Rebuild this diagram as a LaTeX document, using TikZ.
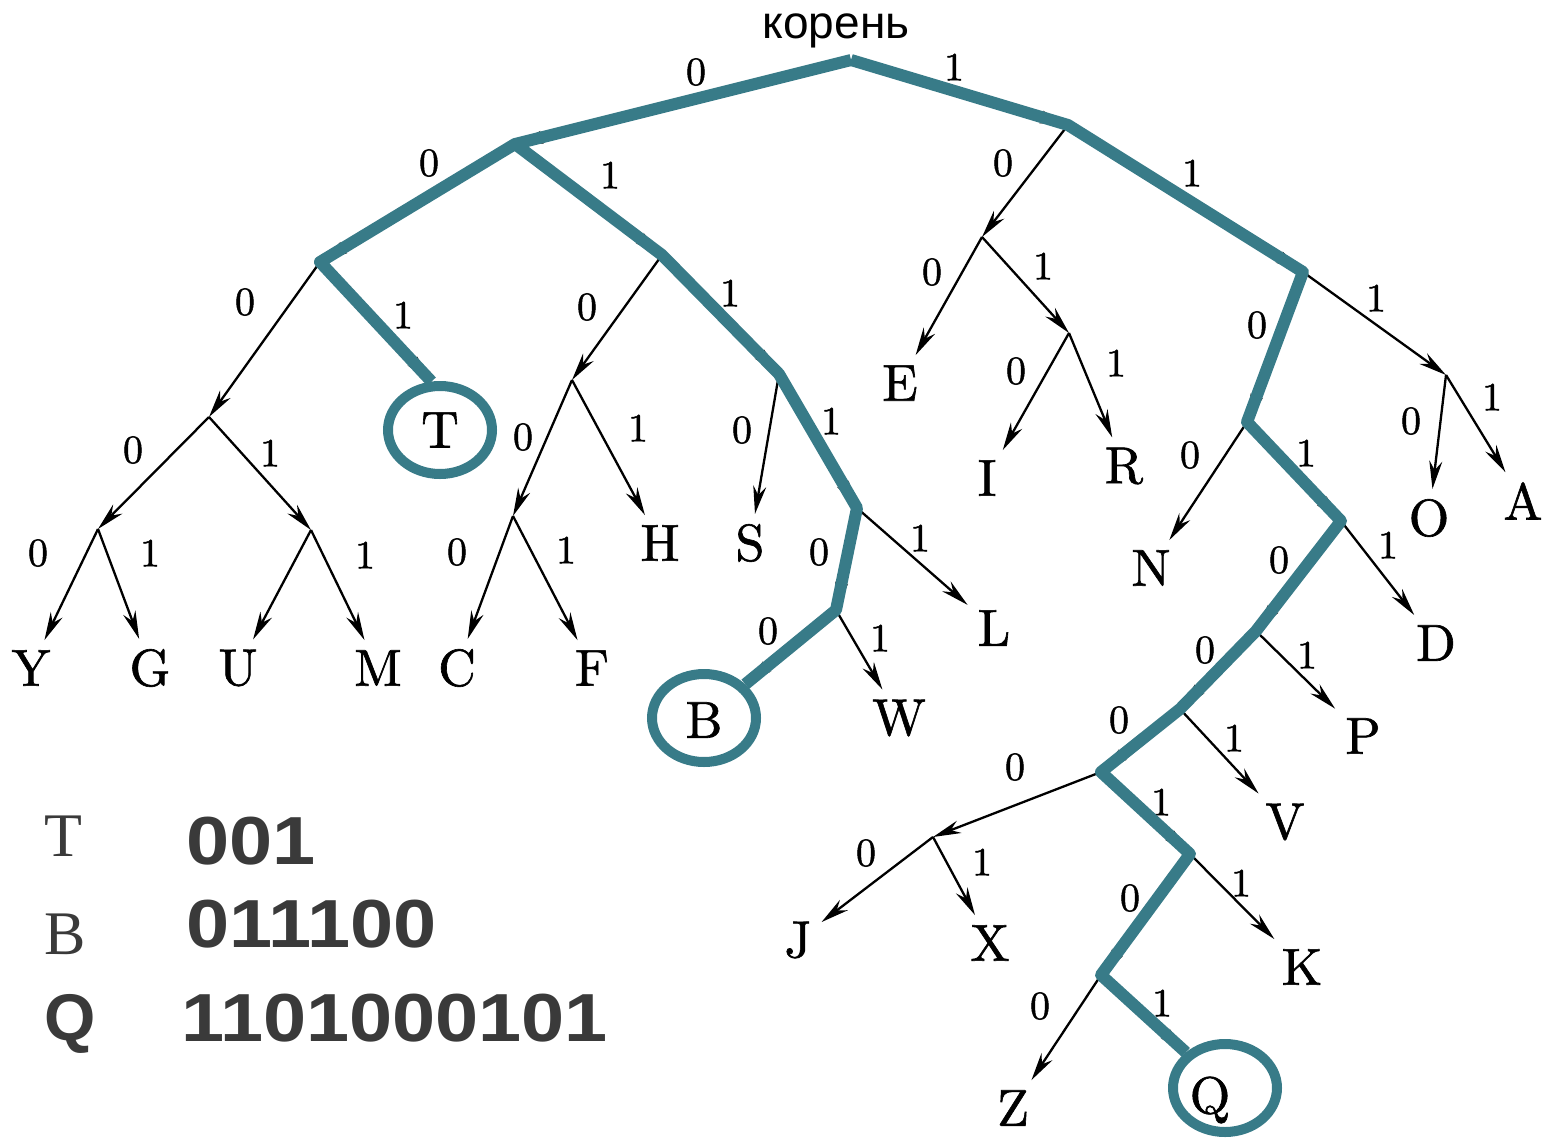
\documentclass[tikz,border=0pt]{standalone}
\usepackage{fontspec}
\usetikzlibrary{arrows.meta,shapes.geometric}
\newfontfamily\lsans{Liberation Sans}
\newfontfamily\lserif{Liberation Serif}
\newfontfamily\treef{lmroman10-regular}[Extension=.otf,FakeBold=1.2]
\definecolor{tealp}{RGB}{56,123,136}
\definecolor{leg}{RGB}{58,58,58}
\begin{document}
\begin{tikzpicture}[x=1pt,y=-1pt,
  edge/.style={line width=2.3pt,-{Stealth[length=28pt,width=13pt]}},
  route/.style={line width=12pt,draw=tealp,line join=round},
  ring/.style={ellipse,draw=tealp,line width=10pt,minimum width=104pt,minimum height=88pt,inner sep=0pt},
  lt/.style={font=\treef\fontsize{52}{52}\selectfont,inner sep=10pt},
  bit/.style={font=\treef\fontsize{40}{40}\selectfont,inner sep=0pt},
  legl/.style={anchor=base west,inner sep=0pt,text=leg},
  legd/.style={anchor=base west,inner sep=0pt,text=leg,xscale=1.14,font=\lsans\bfseries\fontsize{68}{68}\selectfont}]
\useasboundingbox (0,0) rectangle (1547,1138);
% internal nodes
\coordinate (r) at (851,60);
\coordinate (n0) at (515,144);
\coordinate (n00) at (320,262);
\coordinate (n000) at (209,417);
\coordinate (n0000) at (98,529);
\coordinate (n0001) at (311,530);
\coordinate (n01) at (662,255);
\coordinate (n010) at (572,380);
\coordinate (n0100) at (513,516);
\coordinate (n011) at (779,374);
\coordinate (n0111) at (857,508);
\coordinate (n01110) at (836,610);
\coordinate (n1) at (1068,125);
\coordinate (n10) at (982,237);
\coordinate (n101) at (1069,333);
\coordinate (n11) at (1303,272);
\coordinate (n110) at (1247,422);
\coordinate (n111) at (1446,375);
\coordinate (n1101) at (1341,521);
\coordinate (n11010) at (1256,631);
\coordinate (n110100) at (1180,709);
\coordinate (n1101000) at (1101,772);
\coordinate (n11010000) at (933,837);
\coordinate (n11010001) at (1190,854);
\coordinate (n110100010) at (1101,975);
% leaves
\node[lt] (Y) at (31,668) {Y};
\node[lt] (G) at (150,668) {G};
\node[lt] (U) at (238,668) {U};
\node[lt] (M) at (378,668) {M};
\node[lt] (C) at (457,668) {C};
\node[lt] (F) at (592,668) {F};
\node[lt] (H) at (660,543) {H};
\node[lt] (S) at (750,543) {S};
\node[lt] (T) at (440,430) {T};
\node[lt] (B) at (704,720) {B};
\node[lt] (W) at (899,718) {W};
\node[lt] (L) at (994,628) {L};
\node[lt] (E) at (900,383) {E};
\node[lt] (I) at (987,478) {I};
\node[lt] (R) at (1124,466) {R};
\node[lt] (N) at (1151,568) {N};
\node[lt] (O) at (1429,518) {O};
\node[lt] (A) at (1523,501) {A};
\node[lt] (D) at (1436,643) {D};
\node[lt] (P) at (1363,736) {P};
\node[lt] (V) at (1285,822) {V};
\node[lt] (J) at (798,940) {J};
\node[lt] (X) at (990,943) {X};
\node[lt] (K) at (1302,967) {K};
\node[lt] (Z) at (1013,1108) {Z};
\node[lt] (Q) at (1210,1100) {Q};
% circles
\node[ring] (tc) at (440,430) {};
\node[ring] (bc) at (704,718) {};
\node[ring] (qc) at (1225,1088) {};
% black edges
\draw[edge] (r) -- (n0);
\draw[edge] (r) -- (n1);
\draw[edge] (n0) -- (n00);
\draw[edge] (n0) -- (n01);
\draw[edge] (n00) -- (n000);
\draw[edge] (n00) -- (tc.100);
\draw[edge] (n000) -- (n0000);
\draw[edge] (n000) -- (n0001);
\draw[edge] (n0000) -- (Y);
\draw[edge] (n0000) -- (G);
\draw[edge] (n0001) -- (U);
\draw[edge] (n0001) -- (M);
\draw[edge] (n01) -- (n010);
\draw[edge] (n01) -- (n011);
\draw[edge] (n010) -- (n0100);
\draw[edge] (n010) -- (H);
\draw[edge] (n0100) -- (C);
\draw[edge] (n0100) -- (F);
\draw[edge] (n011) -- (S);
\draw[edge] (n011) -- (n0111);
\draw[edge] (n0111) -- (n01110);
\draw[edge] (n0111) -- (L);
\draw[edge] (n01110) -- (bc);
\draw[edge] (n01110) -- (W);
\draw[edge] (n1) -- (n10);
\draw[edge] (n1) -- (n11);
\draw[edge] (n10) -- (E);
\draw[edge] (n10) -- (n101);
\draw[edge] (n101) -- (I);
\draw[edge] (n101) -- (R);
\draw[edge] (n11) -- (n110);
\draw[edge] (n11) -- (n111);
\draw[edge] (n110) -- (N);
\draw[edge] (n110) -- (n1101);
\draw[edge] (n111) -- (O);
\draw[edge] (n111) -- (A);
\draw[edge] (n1101) -- (n11010);
\draw[edge] (n1101) -- (D);
\draw[edge] (n11010) -- (n110100);
\draw[edge] (n11010) -- (P);
\draw[edge] (n110100) -- (n1101000);
\draw[edge] (n110100) -- (V);
\draw[edge] (n1101000) -- (n11010000);
\draw[edge] (n1101000) -- (n11010001);
\draw[edge] (n11010000) -- (J);
\draw[edge] (n11010000) -- (X);
\draw[edge] (n11010001) -- (n110100010);
\draw[edge] (n11010001) -- (K);
\draw[edge] (n110100010) -- (Z);
\draw[edge] (n110100010) -- (qc);
% edge labels
\node[bit] (b1) at (696,72) {0};
\node[bit] (b2) at (954,67) {1};
\node[bit] (b3) at (429,163) {0};
\node[bit] (b4) at (610,175) {1};
\node[bit] (b5) at (245,302) {0};
\node[bit] (b6) at (403,315) {1};
\node[bit] (b7) at (587,307) {0};
\node[bit] (b8) at (730,293) {1};
\node[bit] (b9) at (133,450) {0};
\node[bit] (b10) at (270,453) {1};
\node[bit] (b11) at (38,553) {0};
\node[bit] (b12) at (150,553) {1};
\node[bit] (b13) at (365,555) {1};
\node[bit] (b14) at (523,437) {0};
\node[bit] (b15) at (638,428) {1};
\node[bit] (b16) at (457,552) {0};
\node[bit] (b17) at (566,550) {1};
\node[bit] (b18) at (742,430) {0};
\node[bit] (b19) at (831,421) {1};
\node[bit] (b20) at (819,552) {0};
\node[bit] (b21) at (920,538) {1};
\node[bit] (b22) at (768,631) {0};
\node[bit] (b23) at (880,638) {1};
\node[bit] (b24) at (1003,163) {0};
\node[bit] (b25) at (1192,173) {1};
\node[bit] (b26) at (932,272) {0};
\node[bit] (b27) at (1043,266) {1};
\node[bit] (b28) at (1016,371) {0};
\node[bit] (b29) at (1116,363) {1};
\node[bit] (b30) at (1257,325) {0};
\node[bit] (b31) at (1376,298) {1};
\node[bit] (b32) at (1190,455) {0};
\node[bit] (b33) at (1306,453) {1};
\node[bit] (b34) at (1411,421) {0};
\node[bit] (b35) at (1492,397) {1};
\node[bit] (b36) at (1279,560) {0};
\node[bit] (b37) at (1388,545) {1};
\node[bit] (b38) at (1205,650) {0};
\node[bit] (b39) at (1307,655) {1};
\node[bit] (b40) at (1119,720) {0};
\node[bit] (b41) at (1234,738) {1};
\node[bit] (b42) at (1015,767) {0};
\node[bit] (b43) at (1161,802) {1};
\node[bit] (b44) at (866,853) {0};
\node[bit] (b45) at (982,862) {1};
\node[bit] (b46) at (1130,898) {0};
\node[bit] (b47) at (1241,883) {1};
\node[bit] (b48) at (1040,1006) {0};
\node[bit] (b49) at (1162,1003) {1};
% teal routes
\draw[route] (r) -- (n0) -- (n00) -- (tc.100);
\draw[route] (n0) -- (n01) -- (n011) -- (n0111) -- (n01110) -- (bc);
\draw[route] (r) -- (n1) -- (n11) -- (n110) -- (n1101) -- (n11010) -- (n110100) -- (n1101000) -- (n11010001) -- (n110100010) -- (qc);
% root label
\node[anchor=base,inner sep=0pt,font=\lsans\fontsize{46}{46}\selectfont] (root) at (836,38) {корень};
% legend
\node[legl,font=\lserif\fontsize{62}{62}\selectfont] (kT) at (44,856) {T};
\node[legl,font=\lserif\fontsize{62}{62}\selectfont] (kB) at (44,954) {B};
\node[legl,font=\lsans\bfseries\fontsize{66}{66}\selectfont] (kQ) at (44,1040) {Q};
\node[legd] (cT) at (186,864) {001};
\node[legd] (cB) at (186,947) {011100};
\node[legd] (cQ) at (181,1041) {1101000101};
\end{tikzpicture}
\end{document}
